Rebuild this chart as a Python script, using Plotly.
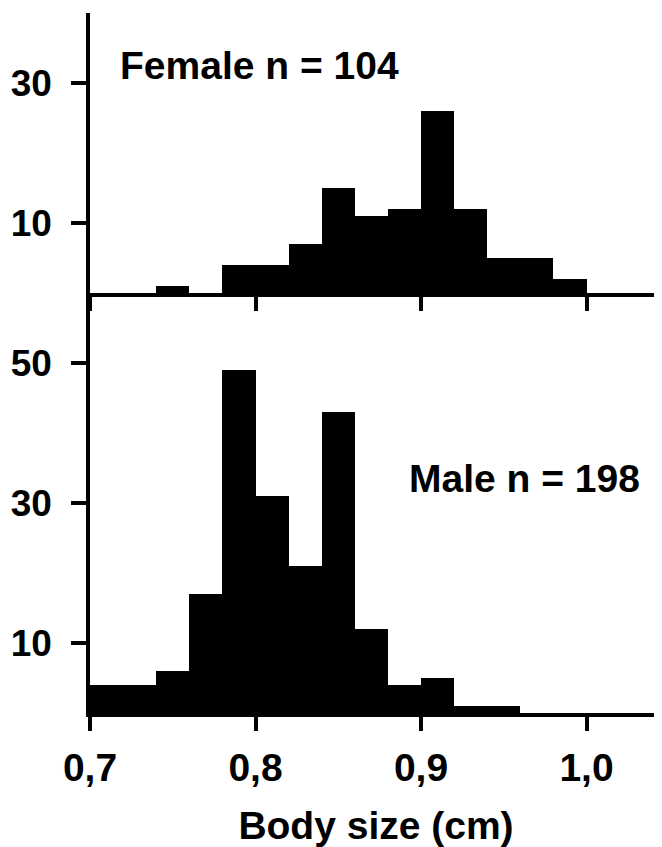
import plotly.graph_objects as go
from plotly.subplots import make_subplots

bin_left = [0.70, 0.72, 0.74, 0.76, 0.78, 0.80, 0.82, 0.84,
            0.86, 0.88, 0.90, 0.92, 0.94, 0.96, 0.98, 1.00]
bin_width = 0.02
female_counts = [0, 0, 1, 0, 4, 4, 7, 15, 11, 12, 26, 12, 5, 5, 2, 0]
male_counts = [4, 4, 6, 17, 49, 31, 21, 43, 12, 4, 5, 1, 1, 0, 0, 0]

x_tickvals = [0.7, 0.8, 0.9, 1.0]
x_ticktext = ["0,7", "0,8", "0,9", "1,0"]
female_yticks = [10, 30]
male_yticks = [10, 30, 50]
female_label = "Female n = 104"
male_label = "Male n = 198"
x_title = "Body size (cm)"

FONT = dict(family="Liberation Sans, Arial, sans-serif", size=39, color="black", weight="bold")
YFONT = dict(family="Liberation Sans, Arial, sans-serif", size=37, color="black", weight="bold")

fig = make_subplots(rows=2, cols=1, shared_xaxes=False, vertical_spacing=0,
                    row_heights=[0.4, 0.6])

fig.add_trace(go.Bar(x=bin_left, y=female_counts, width=bin_width, offset=0,
                     marker=dict(color="black", line=dict(width=0)),
                     showlegend=False), row=1, col=1)
fig.add_trace(go.Bar(x=bin_left, y=male_counts, width=bin_width, offset=0,
                     marker=dict(color="black", line=dict(width=0)),
                     showlegend=False), row=2, col=1)

xr = [0.7, 0.7 + 572 / 1655]
common_x = dict(range=xr, showline=True, linewidth=4, linecolor="black",
                ticks="outside", ticklen=14, tickwidth=3.5, tickcolor="black",
                tickvals=x_tickvals, showgrid=False, zeroline=False,
                automargin=False)
fig.update_xaxes(**common_x, showticklabels=False, row=1, col=1)
fig.update_xaxes(**common_x, ticktext=x_ticktext, tickfont=FONT,
                 ticklabelstandoff=3,
                 title=dict(text=x_title, font=FONT, standoff=27), row=2, col=1)

common_y = dict(showline=True, linewidth=3.5, linecolor="black",
                ticks="outside", ticklen=15, tickwidth=3.5, tickcolor="black",
                showgrid=False, zeroline=False, tickfont=YFONT,
                ticklabelstandoff=12, automargin=False)
fig.update_yaxes(**common_y, range=[0, 40], tickvals=female_yticks, row=1, col=1)
fig.update_yaxes(**common_y, range=[0, 60], tickvals=male_yticks, row=2, col=1)

fig.add_annotation(x=0.7169, y=32.5, xref="x", yref="y", text=female_label,
                   showarrow=False, xanchor="left", yanchor="middle", font=FONT)
fig.add_annotation(x=0.8915, y=33.5, xref="x2", yref="y2", text=male_label,
                   showarrow=False, xanchor="left", yanchor="middle", font=FONT)

fig.update_layout(width=654, height=839, margin=dict(l=82, r=0, t=5, b=134),
                  plot_bgcolor="white", paper_bgcolor="white",
                  bargap=0, font=FONT)

fig.write_html("out.html")
